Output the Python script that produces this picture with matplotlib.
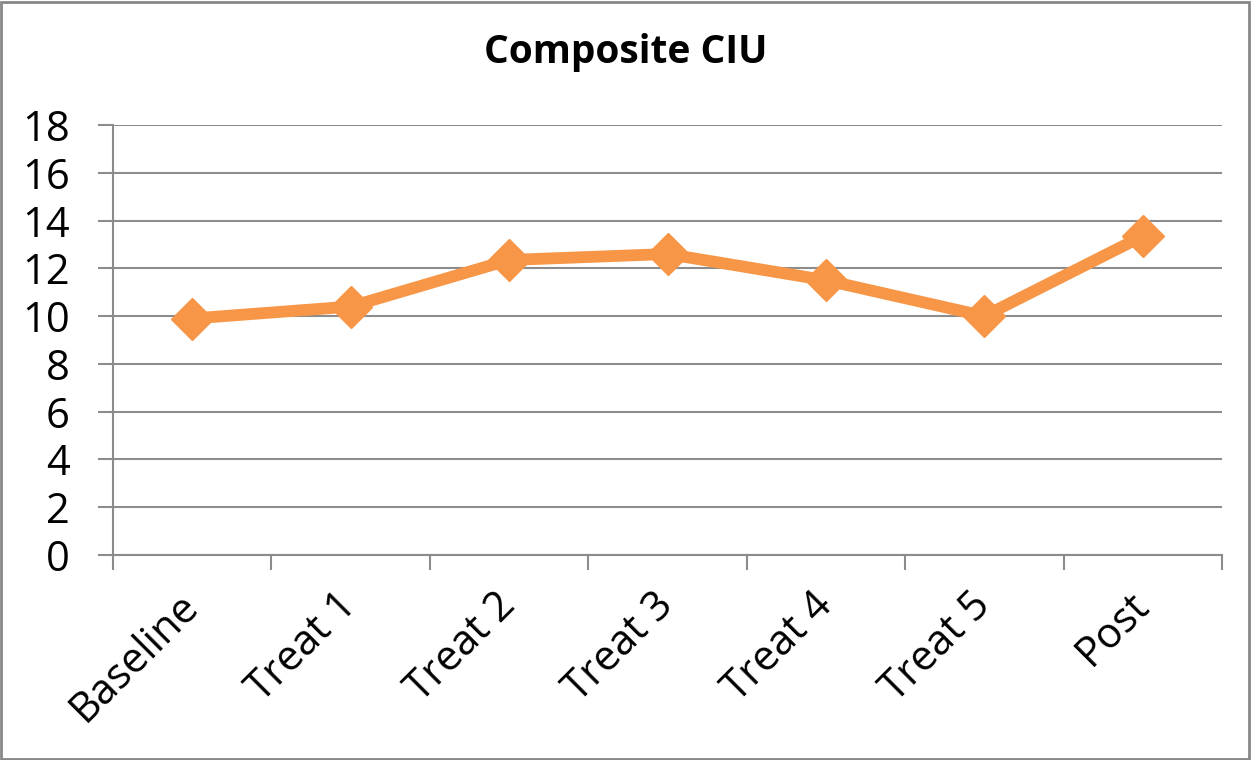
import matplotlib
matplotlib.use("Agg")
import matplotlib.pyplot as plt
from matplotlib.patches import Rectangle
import numpy as np

categories = ["Baseline", "Treat 1", "Treat 2", "Treat 3", "Treat 4", "Treat 5", "Post"]
values = [9.9, 10.4, 12.35, 12.6, 11.5, 10.0, 13.35]
y_ticks = [0, 2, 4, 6, 8, 10, 12, 14, 16, 18]

plt.rcParams['font.family'] = ['Open Sans', 'DejaVu Sans']

W, H = 1252, 760
fig = plt.figure(figsize=(W / 100, H / 100), dpi=100)
ax = fig.add_axes([113 / W, 1 - 555 / H, (1222 - 113) / W, (555 - 125) / H])

x = np.arange(len(categories))
ax.plot(x, values, color="#F79646", lw=8.5, marker="D", ms=21, zorder=3,
        solid_joinstyle="miter")

ax.set_xlim(-0.5, len(categories) - 0.5)
ax.set_ylim(0, 18)
ax.set_yticks(y_ticks)
ax.set_yticklabels([str(v) for v in y_ticks], fontsize=30)

ax.set_xticks(x)
ax.set_xticklabels(categories, fontsize=30, rotation=45, ha="right",
                   rotation_mode="anchor", va="center")
ax.set_xticks(np.arange(len(categories) + 1) - 0.5, minor=True)
ax.tick_params(axis="x", which="major", length=0, pad=32)
ax.tick_params(axis="x", which="minor", length=11, width=1.5, color="#8C8C8C")
ax.tick_params(axis="y", length=11, width=1.5, color="#8C8C8C", pad=20)

ax.grid(axis="y", color="#8C8C8C", lw=1.5)
ax.set_axisbelow(True)
for s in ["top", "right"]:
    ax.spines[s].set_visible(False)
for s in ["left", "bottom"]:
    ax.spines[s].set_color("#8C8C8C")
    ax.spines[s].set_linewidth(1.5)

fig.text(0.5, 1 - 53 / H, "Composite CIU", ha="center", va="center",
         fontsize=28, fontweight="bold")

fig.patches.append(Rectangle((0.001, 0.001), 0.997, 0.997, transform=fig.transFigure,
                             fill=False, edgecolor="#888888", lw=2))

fig.savefig("out.png", dpi=100)
